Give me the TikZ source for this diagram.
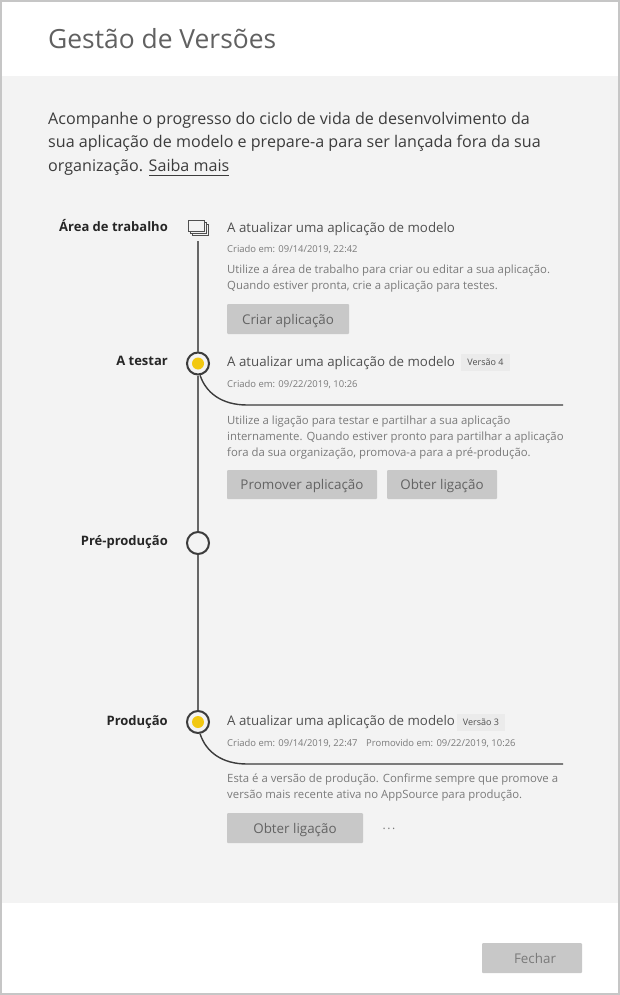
\documentclass[tikz,border=0pt]{standalone}
\usepackage{fontspec}
\setmainfont{Open Sans}
\newcommand{\fsz}[1]{\fontsize{#1}{#1}\selectfont}
\definecolor{panel}{HTML}{F3F3F3}
\definecolor{btn}{HTML}{C8C8C8}
\definecolor{tagbg}{HTML}{EBEBEB}
\definecolor{frame}{HTML}{C6C6C6}
\definecolor{ink}{HTML}{3C3C3C}
\definecolor{soft}{HTML}{7A7A7A}
\definecolor{amber}{HTML}{F2C811}
\tikzstyle{txt} = [inner sep=0pt, anchor=base west, align=left]
\tikzstyle{stage} = [inner sep=0pt, anchor=base east, font=\fsz{13}\bfseries, text=black!85]
\tikzstyle{heading} = [txt, font=\fsz{13.3}, text=ink!90]
\tikzstyle{stamp} = [txt, font=\fsz{9.45}, text=soft]
\tikzstyle{note} = [txt, font=\fsz{11.35}, text=soft, execute at begin node={\setlength{\baselineskip}{16pt}}]
\tikzstyle{button} = [rectangle, fill=btn, rounded corners=1pt, inner sep=0pt, text height=13pt, text depth=3pt, font=\fsz{13.4}, text=ink!80]
\tikzstyle{tag} = [rectangle, fill=tagbg, inner sep=0pt, minimum height=17pt, font=\fsz{9}, text=ink!90]
\tikzstyle{stop} = [circle, draw=ink, line width=2pt, fill=panel, minimum size=22pt, inner sep=0pt]
\tikzstyle{dot} = [circle, fill=amber, minimum size=12pt, inner sep=0pt]
\tikzstyle{spine} = [line width=1.6pt, draw=black!60]
\tikzstyle{branch} = [line width=1.4pt, draw=ink]
\begin{document}
\begin{tikzpicture}[x=1pt,y=-1pt]
      \useasboundingbox (0,0) rectangle (620,995);
      \fill[white] (0,0) rectangle (620,995);
      \fill[panel] (2,76) rectangle (618,903);
      \draw[frame, line width=2pt] (1,1) rectangle (619,994);
      \node[txt, font=\fsz{26.4}, text=black!62] (title) at (48,49) {Gestão de Versões};
      \node[txt, font=\fsz{16.1}, text=ink, execute at begin node={\setlength{\baselineskip}{23.7pt}}] (intro) at (48,171.5) {Acompanhe o progresso do ciclo de vida de desenvolvimento da\\sua aplicação de modelo e prepare-a para ser lançada fora da sua\\organização. Saiba mais};
      \coordinate (linkl) at (149,175.5);
      \coordinate (linkr) at (229,175.5);
      \draw[ink, line width=1pt] (linkl) -- (linkr);
      % stages
      \node[stage] (s1) at (168,231) {Área de trabalho};
      \node[stage] (s2) at (168,365) {A testar};
      \node[stage] (s3) at (168,545) {Pré-produção};
      \node[stage] (s4) at (168,725) {Produção};
      \node[inner sep=0pt, minimum width=20pt, minimum height=28pt] (work) at (198,227) {};
      \node[stop] (test) at (198,363.5) {};
      \node[stop] (pre) at (198,543) {};
      \node[stop] (prod) at (198,722) {};
      \node[dot] (testdot) at (test) {};
      \node[dot] (proddot) at (prod) {};
      \draw[ink!90, line width=.9pt, fill=panel] (192,224) rectangle (208,235);
      \draw[ink!90, line width=.9pt, fill=panel] (190,222) rectangle (206,233);
      \draw[ink!90, line width=.9pt, fill=panel] (188,220) rectangle (204,231);
      \draw[spine] (work.south) -- (test.north);
      \draw[spine] (test.south) -- (pre.north);
      \draw[spine] (pre.south) -- (prod.north);
      \coordinate (end1) at (563,405);
      \coordinate (end2) at (563,764);
      \draw[branch] (test.280) .. controls (206,393) and (222,405) .. (247,405) -- (end1);
      \draw[branch] (prod.280) .. controls (206,752) and (222,764) .. (247,764) -- (end2);
      % first block
      \node[heading] (h1) at (227,232) {A atualizar uma aplicação de modelo};
      \node[stamp] (d1) at (227,252) {Criado em: 09/14/2019, 22:42};
      \node[note] (n1) at (227,289.5) {Utilize a área de trabalho para criar ou editar a sua aplicação.\\Quando estiver pronta, crie a aplicação para testes.};
      \node[button, minimum width=122pt, minimum height=30pt] (b1) at (288,319) {Criar aplicação};
      % second block
      \node[heading] (h2) at (227,366) {A atualizar uma aplicação de modelo};
      \node[tag, minimum width=49pt] (v4) at (485.5,362.5) {Versão 4};
      \node[stamp] (d2) at (227,387) {Criado em: 09/22/2019, 10:26};
      \node[note] (n2) at (227,456) {Utilize a ligação para testar e partilhar a sua aplicação\\internamente. Quando estiver pronto para partilhar a aplicação\\fora da sua organização, promova-a para a pré-produção.};
      \node[button, minimum width=150pt, minimum height=29pt] (b2) at (302,484.5) {Promover aplicação};
      \node[button, minimum width=110pt, minimum height=29pt] (b3) at (442,484.5) {Obter ligação};
      % third block
      \node[heading] (h3) at (227,725) {A atualizar uma aplicação de modelo};
      \node[tag, minimum width=48pt] (v3) at (481,722.5) {Versão 3};
      \node[stamp] (d3) at (227,746) {Criado em: 09/14/2019, 22:47};
      \node[stamp] (d4) at (366,746) {Promovido em: 09/22/2019, 10:26};
      \node[note] (n3) at (227,798.5) {Esta é a versão de produção. Confirme sempre que promove a\\versão mais recente ativa no AppSource para produção.};
      \node[button, minimum width=136pt, minimum height=30pt] (b4) at (295,828) {Obter ligação};
      \node[inner sep=0pt, anchor=base, font=\fsz{12}, text=soft] (more) at (389,829) {.\kern1.5pt.\kern1.5pt.};
      \node[button, minimum width=100pt, minimum height=30pt, text=soft] (close) at (532,958) {\hspace{6pt}Fechar};
    \end{tikzpicture}
\end{document}
